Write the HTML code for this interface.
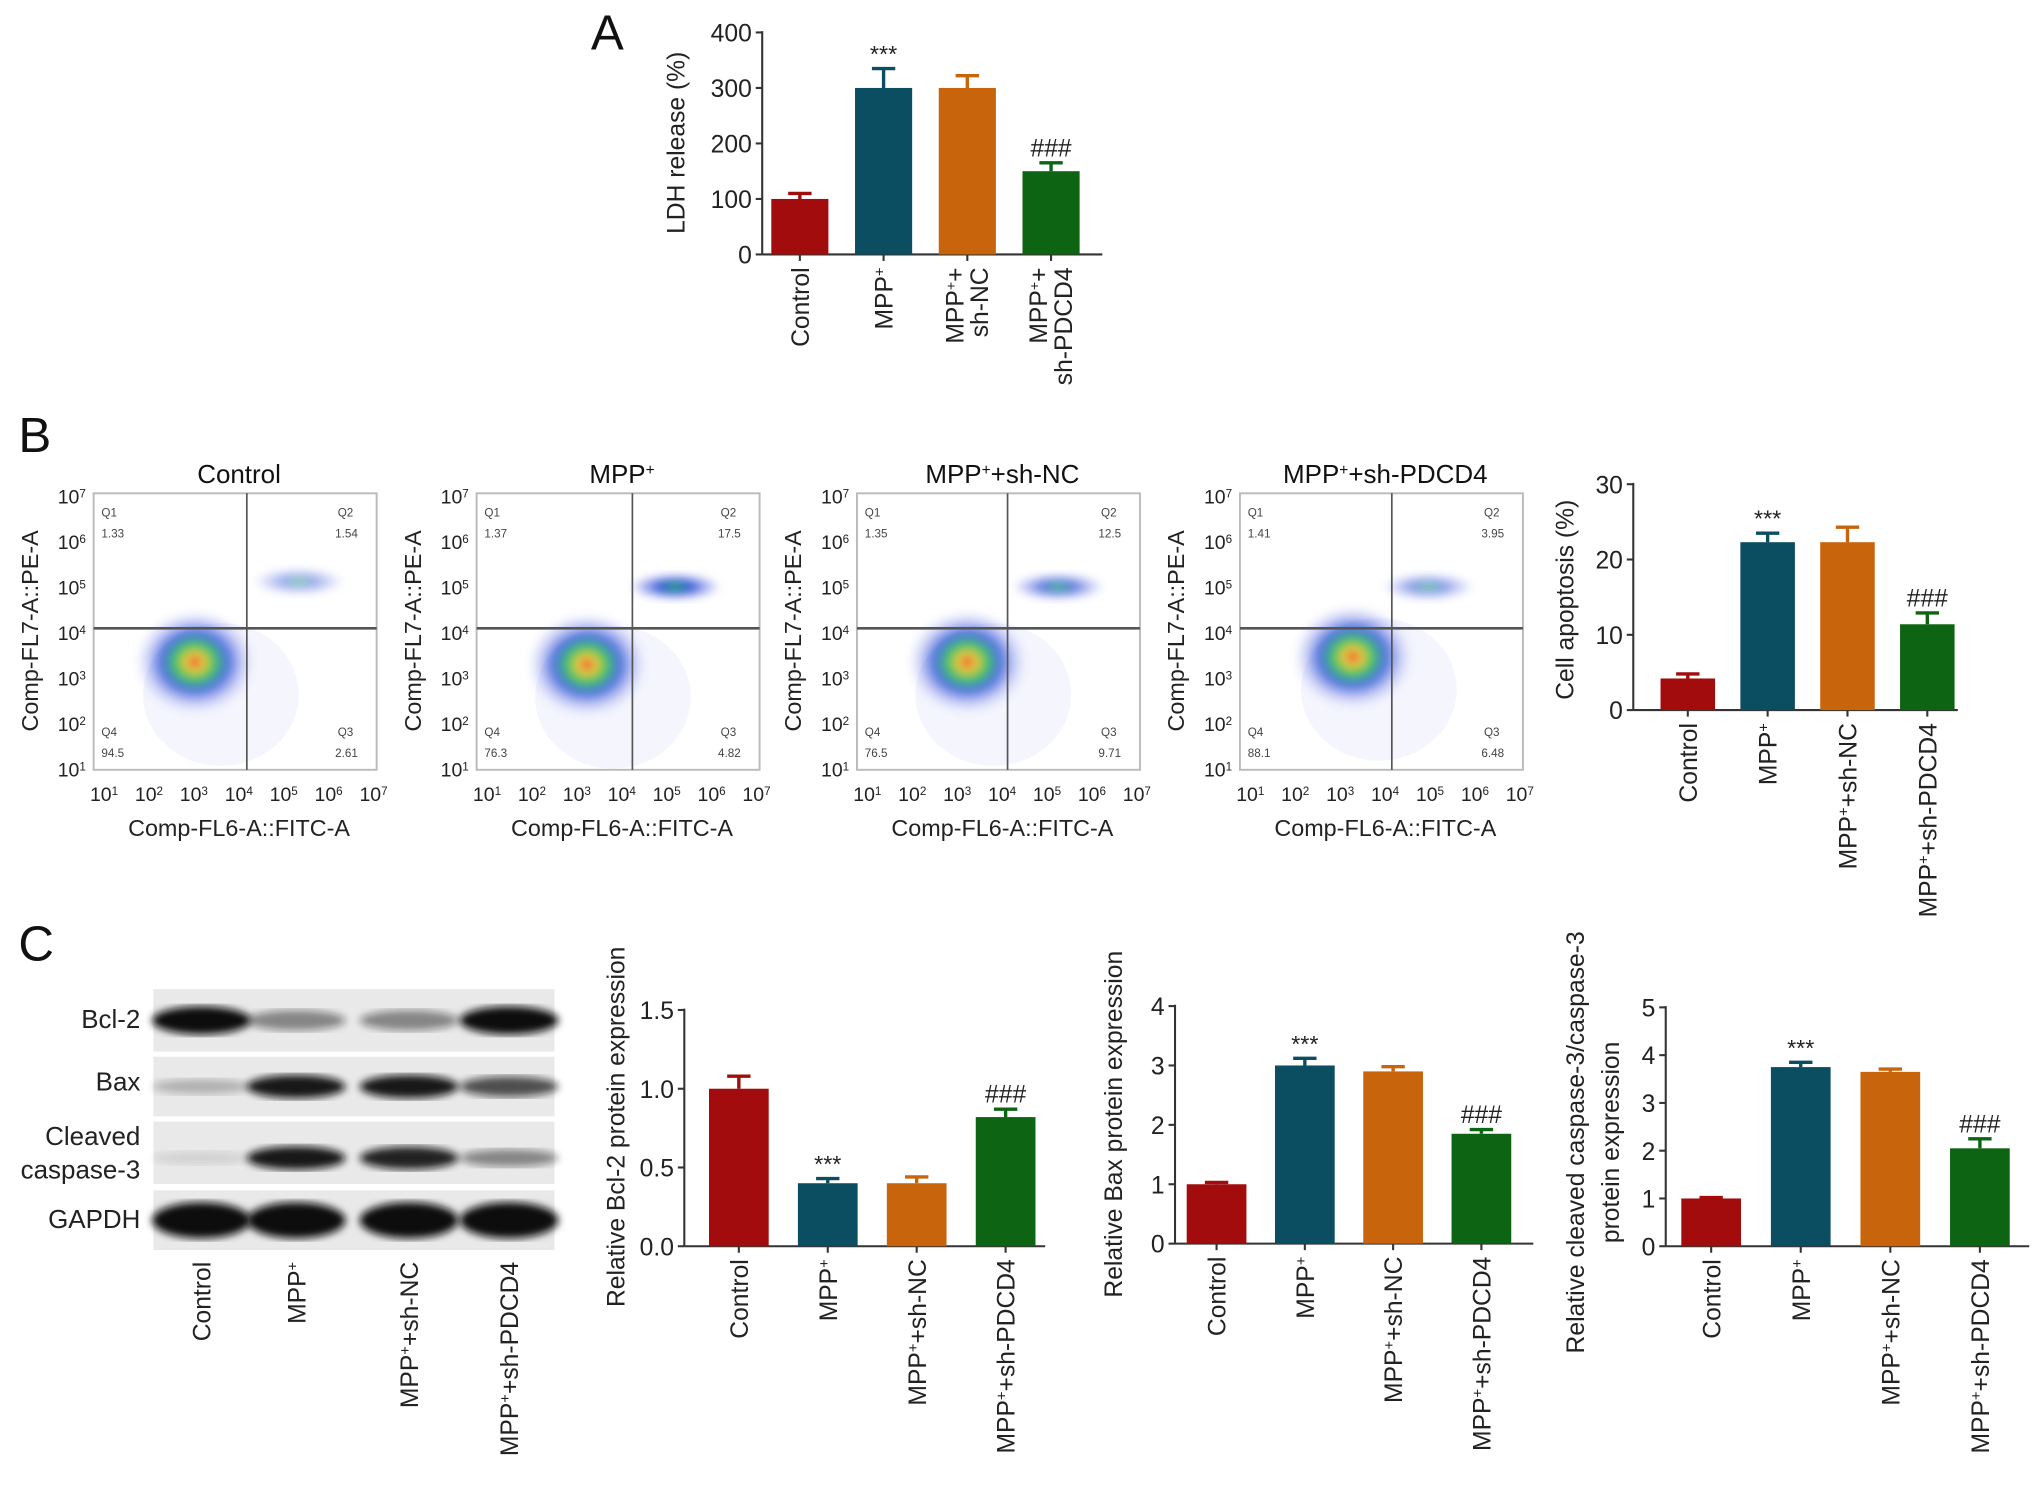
<!DOCTYPE html>
<html><head><meta charset="utf-8"><style>
html,body{margin:0;padding:0;background:#fff;}
svg{display:block;font-family:"Liberation Sans",Arial,sans-serif;}
</style></head><body>
<svg id="fig" width="2032" height="1489" viewBox="0 0 1565 1147" xmlns="http://www.w3.org/2000/svg">
<defs>
<radialGradient id="cloud">
<stop offset="0" stop-color="#e02010"/>
<stop offset="0.15" stop-color="#f0c020"/>
<stop offset="0.32" stop-color="#20c040"/>
<stop offset="0.55" stop-color="#1040d0" stop-opacity="0.85"/>
<stop offset="0.8" stop-color="#5060e0" stop-opacity="0.3"/>
<stop offset="1" stop-color="#8090f0" stop-opacity="0"/>
</radialGradient>
<radialGradient id="cloud2">
<stop offset="0" stop-color="#20c040"/>
<stop offset="0.35" stop-color="#1040d0" stop-opacity="0.85"/>
<stop offset="0.75" stop-color="#5060e0" stop-opacity="0.35"/>
<stop offset="1" stop-color="#8090f0" stop-opacity="0"/>
</radialGradient>
<filter id="blur"><feGaussianBlur stdDeviation="3"/></filter>
</defs>
</svg>
<script>
// ---- data ----
const groups4 = ["Control","MPP+","MPP+ + sh-NC","MPP+ + sh-PDCD4"];
const barColors = ["#a30c0c","#0b4d61","#c8640c","#0d6412"];
const ldhValues = [100,300,300,150];
const ldhErrors = [10,35,22,15];
const ldhTicks = [0,100,200,300,400];
const apopValues = [4.2,22.3,22.3,11.4];
const apopErrors = [0.6,1.2,2.0,1.5];
const apopTicks = [0,10,20,30];
const bcl2Values = [1.0,0.40,0.40,0.82];
const bcl2Errors = [0.08,0.03,0.04,0.05];
const bcl2Ticks = ["0.0","0.5","1.0","1.5"];
const baxValues = [1.0,3.0,2.9,1.85];
const baxErrors = [0.03,0.12,0.08,0.07];
const baxTicks = [0,1,2,3,4];
const caspValues = [1.0,3.75,3.65,2.05];
const caspErrors = [0.02,0.1,0.06,0.2];
const caspTicks = [0,1,2,3,4,5];
const sigMarks = ["","***","","###"];
const flowQ1 = ["1.33","1.37","1.35","1.41"];
const flowQ2 = ["1.54","17.5","12.5","3.95"];
const flowQ3 = ["2.61","4.82","9.71","6.48"];
const flowQ4 = ["94.5","76.3","76.5","88.1"];

const NS="http://www.w3.org/2000/svg";
const svg=document.getElementById('fig');
function mk(tag,attrs,parent,text){const e=document.createElementNS(NS,tag);for(const k in attrs)e.setAttribute(k,attrs[k]);if(text!==undefined)e.textContent=text;(parent||svg).appendChild(e);return e;}
function grp(name,parent){const g=mk('g',{},parent);return g;}
function sup(t,base,supTxt,fs){mk('tspan',{},t,base);mk('tspan',{'baseline-shift':'super','font-size':fs*0.6},t,supTxt);}
function mppLabel(t,kind,fs){
  if(kind===0){t.textContent="Control";return;}
  mk('tspan',{},t,"MPP");mk('tspan',{'baseline-shift':'super','font-size':fs*0.6},t,"+");
  if(kind===2)mk('tspan',{},t,"+sh-NC");
  if(kind===3)mk('tspan',{},t,"+sh-PDCD4");
}

function barChart(o){
  const g=grp(o.name);
  const yS=v=>o.y0-(v-o.min)/(o.max-o.min)*(o.y0-o.y1);
  const ax=grp('y-axis',g);
  mk('line',{x1:o.x0,y1:o.y1-1,x2:o.x0,y2:o.y0,stroke:'#333','stroke-width':1.6},ax);
  o.ticks.forEach(tv=>{const v=parseFloat(tv);const y=yS(v);
    mk('line',{x1:o.x0-5,y1:y,x2:o.x0,y2:y,stroke:'#333','stroke-width':1.6},ax);
    const t=mk('text',{x:o.x0-8,y:y+7,'font-size':19,'text-anchor':'end',fill:'#222'},ax,String(tv));
    
  });
  const xa=grp('x-axis',g);
  mk('line',{x1:o.x0,y1:o.y0,x2:o.x0+o.step*4+4,y2:o.y0,stroke:'#333','stroke-width':1.6},xa);
  o.values.forEach((v,i)=>{
    const cx=o.cx0+i*o.step, top=yS(v), et=yS(v+o.errors[i]);
    const b=mk('rect',{x:cx-o.bw/2,y:top,width:o.bw,height:o.y0-top,fill:barColors[i]},g);
    
    const e=mk('path',{d:`M${cx},${top}V${et}M${cx-9},${et}H${cx+9}`,stroke:barColors[i],'stroke-width':2.6,fill:'none'},g);
    
    if(sigMarks[i]){const s=mk('text',{x:cx,y:et-5,'font-size':sigMarks[i][0]==='#'?19:18,'text-anchor':'middle',fill:'#222'},g,sigMarks[i]);
      }
    mk('line',{x1:cx,y1:o.y0,x2:cx,y2:o.y0+5,stroke:'#333','stroke-width':1.6},xa);
    const lx=cx+7, ly=o.y0+10;
    if(o.twoLine && i>=2){
      const t=mk('text',{transform:`translate(${cx-3},${ly}) rotate(-90)`,'font-size':19,'text-anchor':'end',fill:'#222'},xa);
      mk('tspan',{},t,"MPP");mk('tspan',{'baseline-shift':'super','font-size':11},t,"+");mk('tspan',{},t,"+");
      const t2=mk('text',{transform:`translate(${cx+16},${ly}) rotate(-90)`,'font-size':19,'text-anchor':'end',fill:'#222'},xa,i===2?"sh-NC":"sh-PDCD4");
      
      
    } else {
      const t=mk('text',{transform:`translate(${lx},${ly}) rotate(-90)`,'font-size':19,'text-anchor':'end',fill:'#222'},xa);
      mppLabel(t,i,19);
      
    }
  });
  o.ylabel.forEach((lab,k)=>{
    const t=mk('text',{transform:`translate(${o.ylx+k*27},${o.yly}) rotate(-90)`,'font-size':19,'text-anchor':'middle',fill:'#222'},g,lab);
    
  });
}

[["A",455,38],["B",14,348],["C",14,740]].forEach(p=>{const t=mk('text',{x:p[1],y:p[2],'font-size':38,fill:'#111'},svg,p[0]);});

barChart({name:'ldh-chart',x0:587,y0:196,y1:25,min:0,max:400,ticks:ldhTicks,values:ldhValues,errors:ldhErrors,cx0:616,step:64.5,bw:44,ylabel:['LDH release (%)'],ylx:527,yly:110,twoLine:true});
barChart({name:'apoptosis-chart',x0:1258,y0:547,y1:373,min:0,max:30,ticks:apopTicks,values:apopValues,errors:apopErrors,cx0:1300,step:61.5,bw:42,ylabel:['Cell apoptosis (%)'],ylx:1212,yly:462});
barChart({name:'bcl2-chart',x0:527,y0:960,y1:778,min:0,max:1.5,ticks:bcl2Ticks,values:bcl2Values,errors:bcl2Errors,cx0:569,step:68.5,bw:46,ylabel:['Relative Bcl-2 protein expression'],ylx:481,yly:868});
barChart({name:'bax-chart',x0:905,y0:958,y1:775,min:0,max:4,ticks:baxTicks,values:baxValues,errors:baxErrors,cx0:937,step:68,bw:46,ylabel:['Relative Bax protein expression'],ylx:864,yly:866});
barChart({name:'caspase-chart',x0:1283,y0:960,y1:776,min:0,max:5,ticks:caspTicks,values:caspValues,errors:caspErrors,cx0:1318,step:69,bw:46,ylabel:['Relative cleaved caspase-3/caspase-3','protein expression'],ylx:1220,yly:880});

const flowX=[72,367,660,955];
const cloudPos=[[150,510],[452,512],[745,510],[1042,506]];
const q2Pos=[[230,448,0.5],[520,452,1],[815,452,0.8],[1100,452,0.6]];
flowX.forEach((fx,i)=>{
  const g=grp('flow-plot-'+(i+1));
  const w=218,top=380,bot=593,vx=fx+(i===0?118:(i===1?120:(i===2?116:117))),hy=484;
  const tt=mk('text',{x:fx+112,y:372,'font-size':20,'text-anchor':'middle',fill:'#111'},g);
  if(i===0)tt.textContent='Control';else mppLabel(tt,i,20);
  
  const c=cloudPos[i];
  mk('ellipse',{cx:c[0]+20,cy:c[1]+25,rx:60,ry:55,fill:'#4050e0',opacity:0.06},g);
  mk('ellipse',{cx:c[0],cy:c[1],rx:46,ry:40,fill:'url(#cloud)',filter:'url(#blur)',opacity:0.85},g);
  const q=q2Pos[i];
  mk('ellipse',{cx:q[0],cy:q[1],rx:36,ry:11,fill:'url(#cloud2)',opacity:q[2],filter:'url(#blur)'},g);
  mk('rect',{x:fx,y:top,width:w,height:bot-top,fill:'none',stroke:'#bbb','stroke-width':1.5},g);
  mk('line',{x1:fx,y1:hy,x2:fx+w,y2:hy,stroke:'#555','stroke-width':2},g);
  mk('line',{x1:vx,y1:top,x2:vx,y2:bot,stroke:'#555','stroke-width':1.3},g);
  [['Q1',fx+6,398],['Q2',fx+w-30,398],['Q4',fx+6,567],['Q3',fx+w-30,567]].forEach(a=>mk('text',{x:a[1],y:a[2],'font-size':9,fill:'#444'},g,a[0]));
  [[flowQ1[i],fx+6,414],[flowQ2[i],fx+w-32,414],[flowQ4[i],fx+6,583],[flowQ3[i],fx+w-32,583]].forEach(a=>{const t=mk('text',{x:a[1],y:a[2],'font-size':9,fill:'#444'},g,a[0]);});
  for(let k=1;k<=7;k++){
    const y=bot-(k-1)*35;
    const t=mk('text',{x:fx-6,y:y+5,'font-size':15,'text-anchor':'end',fill:'#222'},g);sup(t,'10',String(k),15);
    const x=fx+8+(k-1)*34.6;
    const t2=mk('text',{x:x,y:bot+24,'font-size':15,'text-anchor':'middle',fill:'#222'},g);sup(t2,'10',String(k),15);
  }
  const xl=mk('text',{x:fx+112,y:644,'font-size':18,'text-anchor':'middle',fill:'#222'},g,'Comp-FL6-A::FITC-A');
  
  const yl=mk('text',{transform:`translate(${fx-43},${486}) rotate(-90)`,'font-size':18,'text-anchor':'middle',fill:'#222'},g,'Comp-FL7-A::PE-A');
  
});

const wb=grp('western-blot');
const rows=[['Bcl-2',762,810,[1,0.45,0.45,1],14],['Bax',814,860,[0.25,0.95,0.95,0.7],12],['caspase-3',864,912,[0.1,0.95,0.9,0.45],12],['GAPDH',917,963,[1,1,1,1],18]];
const lanes=[155,228,315,392];
rows.forEach(r=>{
  mk('rect',{x:118,y:r[1],width:309,height:r[2]-r[1],fill:'#e9e9e9'},wb);
  const cy=(r[1]+r[2])/2+(r[0]==='caspase-3'?4:0);
  r[3].forEach((a,i)=>{const b=mk('ellipse',{cx:lanes[i],cy:cy,rx:38,ry:r[4]*(0.5+0.5*a)/1.3,fill:'#111',opacity:a,filter:'url(#blur)'},wb);});
});
[['Bcl-2',792],['Bax',840],['Cleaved',882],['caspase-3',908],['GAPDH',946]].forEach(a=>{const t=mk('text',{x:108,y:a[1],'font-size':20,'text-anchor':'end',fill:'#222'},wb,a[0]);});
lanes.forEach((x,i)=>{const t=mk('text',{transform:`translate(${x+7},972) rotate(-90)`,'font-size':19,'text-anchor':'end',fill:'#222'},wb);mppLabel(t,i,19);});
</script>
</body></html>
